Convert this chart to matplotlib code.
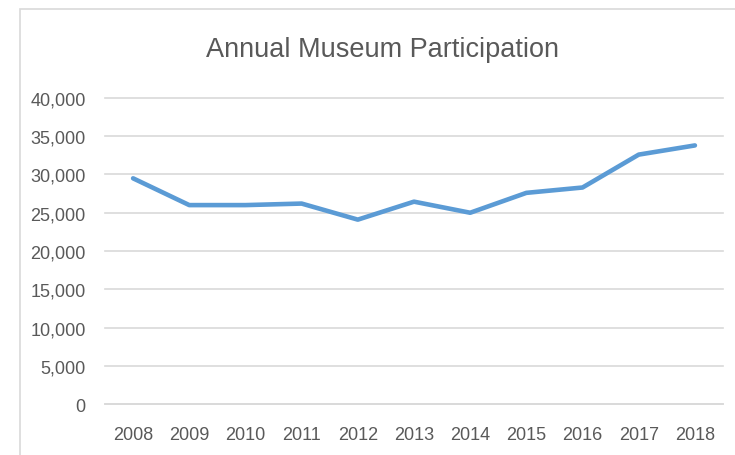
import matplotlib.pyplot as plt
from matplotlib.patches import Rectangle
from matplotlib.ticker import FuncFormatter

# data
years = ['2008', '2009', '2010', '2011', '2012', '2013', '2014', '2015', '2016', '2017', '2018']
visitors = [29500, 26000, 26000, 26200, 24100, 26450, 25000, 27600, 28300, 32600, 33800]
y_ticks = [0, 5000, 10000, 15000, 20000, 25000, 30000, 35000, 40000]

txt_color = '#595959'
grid_color = '#D9D9D9'
line_color = '#5B9BD5'
font = ['Liberation Sans Narrow', 'Liberation Sans', 'DejaVu Sans']

fig = plt.figure(figsize=(7.35, 4.56), dpi=100)

# chart border (cut off on the right and bottom like the screenshot)
fig.patches.append(Rectangle((20 / 735, -0.1), 1.0, 1.1 - 10 / 456, transform=fig.transFigure,
                             fill=False, edgecolor=grid_color, linewidth=1.2))

ax = fig.add_axes([105 / 735, 1 - 405 / 456, 618 / 735, 306 / 456])
x = list(range(len(years)))
ax.plot(x, visitors, color=line_color, linewidth=3.3, solid_capstyle='round', solid_joinstyle='round', zorder=3)

ax.set_xlim(-0.5, len(years) - 0.5)
ax.set_ylim(0, 40000)
ax.set_yticks(y_ticks)
ax.yaxis.set_major_formatter(FuncFormatter(lambda v, p: f'{int(v):,}'))
ax.set_xticks(x)
ax.set_xticklabels(years)
ax.grid(axis='y', color=grid_color, linewidth=1.2)
for gl in ax.get_ygridlines():
    gl.set_clip_on(False)
ax.set_axisbelow(True)
for s in ['top', 'right', 'left']:
    ax.spines[s].set_visible(False)
ax.spines['bottom'].set_color(grid_color)
ax.spines['bottom'].set_linewidth(1.2)
ax.tick_params(length=0, colors=txt_color, labelsize=13)
ax.tick_params(axis='y', pad=14)
ax.tick_params(axis='x', pad=16)
for lab in ax.get_xticklabels() + ax.get_yticklabels():
    lab.set_family(font)

fig.text(383 / 735, 1 - 50 / 456, 'Annual Museum Participation', ha='center', va='center',
         fontsize=19.5, color=txt_color, family=font)

fig.savefig('out.png', dpi=100)
